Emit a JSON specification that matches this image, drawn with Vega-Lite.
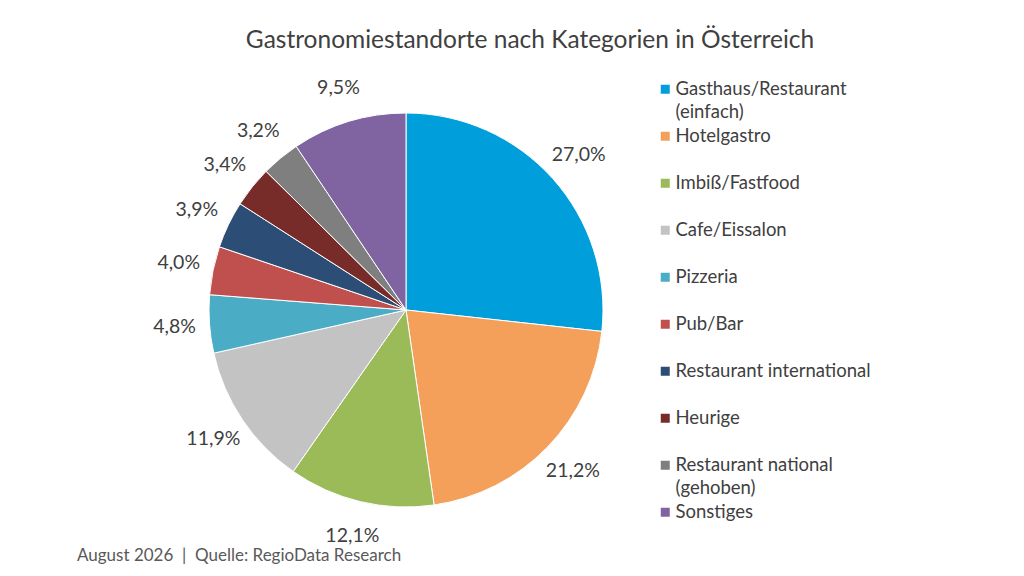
{
  "$schema": "https://vega.github.io/schema/vega-lite/v6.json",
  "padding": {"left": 77, "top": 27, "right": 10, "bottom": 5},
  "background": "white",
  "title": {
    "text": "August 2026\u00a0\u00a0|\u00a0\u00a0Quelle: RegioData Research",
    "orient": "bottom",
    "anchor": "start",
    "frame": "bounds",
    "dx": -59,
    "offset": 3,
    "font": "Lato",
    "fontSize": 17,
    "fontWeight": "normal",
    "color": "#595959"
  },
  "vconcat": [
    {
      "width": 540,
      "height": 460,
      "title": {
        "text": "Gastronomiestandorte nach Kategorien in Österreich",
        "anchor": "middle",
        "frame": "group",
        "dx": 124,
        "offset": 25,
        "font": "Lato",
        "fontSize": 24.5,
        "fontWeight": "normal",
        "color": "#404040"
      },
      "data": {
        "values": [
          {"idx": 1, "kategorie": "Gasthaus/Restaurant (einfach)", "anteil": 0.270},
          {"idx": 2, "kategorie": "Hotelgastro", "anteil": 0.212},
          {"idx": 3, "kategorie": "Imbiß/Fastfood", "anteil": 0.121},
          {"idx": 4, "kategorie": "Cafe/Eissalon", "anteil": 0.119},
          {"idx": 5, "kategorie": "Pizzeria", "anteil": 0.048},
          {"idx": 6, "kategorie": "Pub/Bar", "anteil": 0.040},
          {"idx": 7, "kategorie": "Restaurant international", "anteil": 0.039},
          {"idx": 8, "kategorie": "Heurige", "anteil": 0.034},
          {"idx": 9, "kategorie": "Restaurant national (gehoben)", "anteil": 0.032},
          {"idx": 10, "kategorie": "Sonstiges", "anteil": 0.095}
        ]
      },
      "encoding": {
        "theta": {"field": "anteil", "type": "quantitative", "stack": true},
        "order": {"field": "idx", "type": "quantitative"}
      },
      "layer": [
        {
          "mark": {"type": "arc", "outerRadius": 197, "stroke": "white", "strokeWidth": 1},
          "encoding": {
            "color": {
              "field": "kategorie",
              "type": "nominal",
              "scale": {
                "domain": ["Gasthaus/Restaurant (einfach)", "Hotelgastro", "Imbiß/Fastfood", "Cafe/Eissalon", "Pizzeria", "Pub/Bar", "Restaurant international", "Heurige", "Restaurant national (gehoben)", "Sonstiges"],
                "range": ["#009EDB", "#F5A05A", "#9BBB59", "#C3C3C3", "#4BACC6", "#C0504D", "#2C4D75", "#772C2A", "#7F7F7F", "#8064A2"]
              },
              "legend": {
                "title": null,
                "orient": "none",
                "legendX": 520,
                "legendY": 0,
                "padding": 0,
                "symbolType": "square",
                "symbolSize": 81,
                "symbolStrokeWidth": 0,
                "labelFont": "Lato",
                "labelFontSize": 18.5,
                "labelColor": "#404040",
                "labelOffset": 1,
                "labelLimit": 300,
                "gridAlign": "all",
                "rowPadding": 5,
                "labelExpr": "indexof(datum.label, ' (') > 0 ? [substring(datum.label, 0, indexof(datum.label, ' (')), substring(datum.label, indexof(datum.label, ' (') + 1)] : datum.label",
                "labelBaseline": "middle",
                "encode": {"labels": {"enter": {"lineHeight": {"value": 23}}, "update": {"lineHeight": {"value": 23}}}}
              }
            }
          }
        },
        {
          "mark": {"type": "text", "radius": 232, "font": "Lato", "fontSize": 19.5, "color": "#404040"},
          "encoding": {
            "text": {"field": "anteil", "type": "quantitative", "format": ".1%"}
          }
        }
      ]
    }
  ],
  "config": {
    "view": {"stroke": null},
    "style": {"guide-label": {"lineHeight": 23}},
    "locale": {"number": {"decimal": ",", "thousands": ".", "grouping": [3], "currency": ["", " €"]}}
  }
}
